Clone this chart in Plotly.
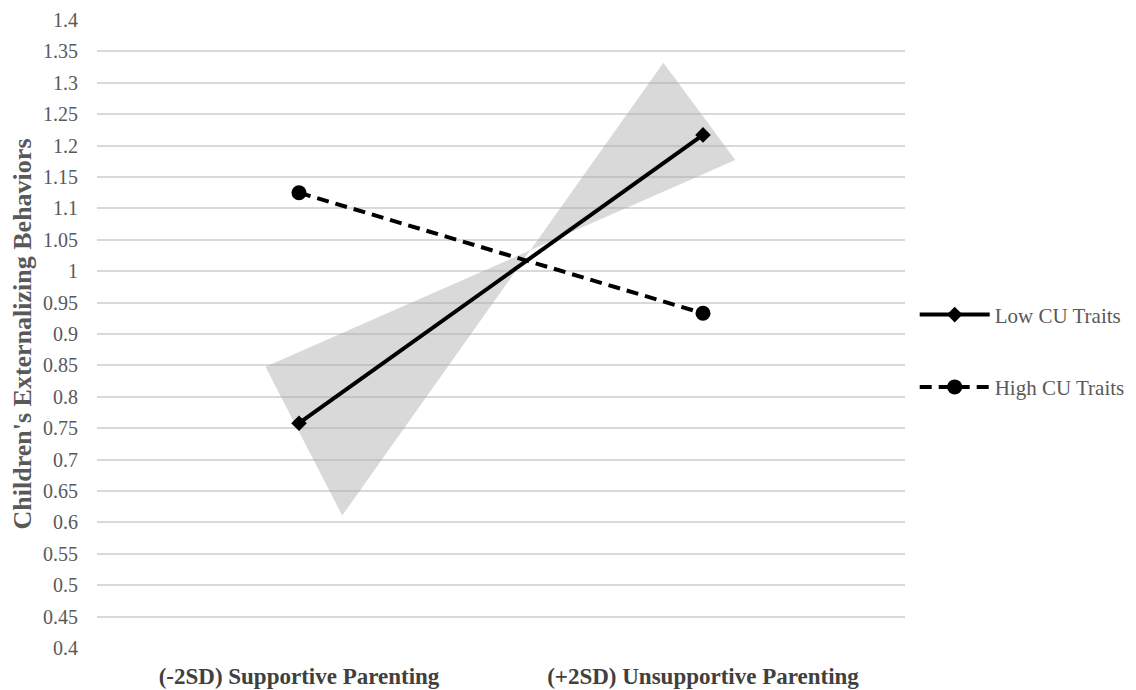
import plotly.graph_objects as go

categories = ["(-2SD) Supportive Parenting", "(+2SD) Unsupportive Parenting"]
cat_pos = [0, 1]
low_cu = [0.758, 1.217]
high_cu = [1.125, 0.933]
# confidence band vertices (self-crossing quadrilateral -> bowtie)
band_x = [-0.083, 1.080, 0.902, 0.107]
band_y = [0.848, 1.177, 1.332, 0.611]
y_ticks = [round(0.4 + 0.05 * i, 2) for i in range(21)]
y_tick_text = [("%g" % v) for v in y_ticks]

FONT = "Liberation Serif"
GRAY = "#595959"

fig = go.Figure()
fig.add_trace(go.Scatter(
    x=band_x, y=band_y, fill="toself", mode="none",
    fillcolor="rgba(170,170,170,0.45)", showlegend=False, hoverinfo="skip"))
fig.add_trace(go.Scatter(
    x=cat_pos, y=low_cu, name="Low CU Traits", mode="lines+markers",
    line=dict(color="black", width=4),
    marker=dict(symbol="diamond", size=12, color="black"),
    legendgroup="a"))
fig.add_trace(go.Scatter(
    x=cat_pos, y=high_cu, name="High CU Traits", mode="lines+markers",
    line=dict(color="black", width=4, dash="12px,7px"),
    marker=dict(symbol="circle", size=15, color="black"),
    legendgroup="b"))

fig.update_layout(
    width=1128, height=682,
    margin=dict(l=89, r=231, t=12, b=42, autoexpand=False),
    plot_bgcolor="white", paper_bgcolor="white",
    font=dict(family=FONT, size=19, color=GRAY),
    xaxis=dict(range=[-0.5, 1.5], tickvals=cat_pos, ticktext=categories,
               showgrid=False, zeroline=False, showline=False, automargin=False,
               tickfont=dict(family=FONT, size=23, color="#404040", weight="bold"),
               ticks="", ticklabelstandoff=12),
    yaxis=dict(range=[0.4, 1.4], tickvals=y_ticks, ticktext=y_tick_text,
               showgrid=True, gridcolor="#d9d9d9", gridwidth=1.5,
               zeroline=False, showline=False, ticks="", automargin=False,
               ticklabelstandoff=18,
               tickfont=dict(family=FONT, size=20, color=GRAY),
               title=dict(text="<b>Children's Externalizing Behaviors</b>",
                          font=dict(family=FONT, size=26, color="#595959"),
                          standoff=6)),
    legend=dict(x=1.012, y=0.563, xanchor="left", yanchor="top",
                font=dict(family=FONT, size=21, color=GRAY),
                tracegroupgap=42, itemwidth=70, bgcolor="rgba(0,0,0,0)"),
    showlegend=True,
)

fig.write_html("out.html")
